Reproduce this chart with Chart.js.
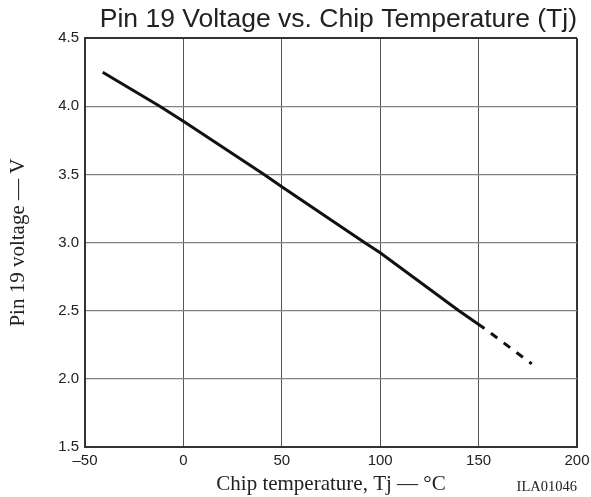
<!DOCTYPE html>
<html>
<head>
<meta charset="utf-8">
<script src="https://cdn.jsdelivr.net/npm/chart.js@4/dist/chart.umd.min.js"></script>
<style>
  html, body { margin: 0; padding: 0; background: #fff; }
  #grafico { display: block; }
</style>
</head>
<body>
<canvas id="grafico" width="591" height="497"></canvas>
<script>
// Tj (°C) e tensão no pino 19 (V) — troço medido (linha cheia)
const temperaturas = [-41, -12, 0, 41, 50, 92, 100, 140, 153];
const tensoes = [4.25, 4.0, 3.89, 3.5, 3.41, 3.0, 2.925, 2.5, 2.37];

// troço extrapolado (tracejado)
const temperaturasExtra = [153, 177];
const tensoesExtra = [2.37, 2.11];

const ticksX = [-50, 0, 50, 100, 150, 200];
const ticksY = [1.5, 2.0, 2.5, 3.0, 3.5, 4.0, 4.5];

const titulo = "Pin 19 Voltage vs. Chip Temperature (Tj)";
const tituloX = "Chip temperature, Tj \u2014 \u00B0C";
const tituloY = "Pin 19 voltage \u2014 V";
const referencia = "ILA01046";

const sans = "'Liberation Sans', Arial, Helvetica, sans-serif";
const serif = "'Liberation Serif', 'Times New Roman', serif";

const pontos = (xs, ys) => xs.map((x, i) => ({ x, y: ys[i] }));

// escreve o código da figura no canto inferior direito
const codigoFigura = {
  id: "codigoFigura",
  afterDraw(chart) {
    const { ctx, chartArea } = chart;
    ctx.save();
    ctx.font = `14.5px ${serif}`;
    ctx.fillStyle = "#222";
    ctx.textAlign = "right";
    ctx.textBaseline = "alphabetic";
    ctx.fillText(referencia, chartArea.right, 491);
    ctx.restore();
  }
};

const ctx = document.getElementById("grafico").getContext("2d");

new Chart(ctx, {
  type: "scatter",
  data: {
    datasets: [
      {
        data: pontos(temperaturas, tensoes),
        showLine: true,
        borderColor: "#111",
        borderWidth: 3,
        pointRadius: 0,
        tension: 0
      },
      {
        data: pontos(temperaturasExtra, tensoesExtra),
        showLine: true,
        borderColor: "#111",
        borderWidth: 3,
        borderDash: [8, 8],
        borderDashOffset: 8,
        pointRadius: 0,
        tension: 0
      }
    ]
  },
  options: {
    responsive: false,
    animation: false,
    layout: { padding: { left: 0, right: 14, top: 0, bottom: 0 } },
    plugins: {
      legend: { display: false },
      tooltip: { enabled: false },
      title: {
        display: true,
        text: titulo,
        align: "end",
        color: "#222",
        font: { family: sans, size: 26.5, weight: "normal" },
        padding: { top: 4.2, bottom: 2.2 }
      }
    },
    scales: {
      x: {
        type: "linear",
        min: -50,
        max: 200,
        afterBuildTicks: escala => {
          escala.ticks = ticksX.map(v => ({ value: v }));
        },
        afterFit: escala => {
          escala.height = 50;
          escala.paddingLeft = 0;
          escala.paddingRight = 0;
        },
        ticks: {
          color: "#222",
          padding: 5,
          font: { family: sans, size: 15 },
          callback: v => (v < 0 ? "\u2013" + Math.abs(v) : String(v))
        },
        grid: {
          drawTicks: false,
          color: ctx => (ctx.index === ticksX.length - 1 ? "#333" : "#555"),
          lineWidth: ctx => (ctx.index === ticksX.length - 1 ? 2 : 1)
        },
        border: { color: "#333", width: 2 },
        title: {
          display: true,
          text: tituloX,
          color: "#222",
          font: { family: serif, size: 21 },
          padding: { top: 0, bottom: 0 }
        }
      },
      y: {
        type: "linear",
        min: 1.5,
        max: 4.5,
        afterBuildTicks: escala => {
          escala.ticks = ticksY.map(v => ({ value: v }));
        },
        afterFit: escala => { escala.width = 85; },
        ticks: {
          color: "#222",
          padding: 6,
          font: { family: sans, size: 15 },
          callback: v => v.toFixed(1)
        },
        grid: {
          drawTicks: false,
          color: ctx => (ctx.index === ticksY.length - 1 ? "#333" : "#808080"),
          lineWidth: ctx => (ctx.index === ticksY.length - 1 ? 2 : 1.2)
        },
        border: { color: "#333", width: 2 },
        title: {
          display: true,
          text: tituloY,
          color: "#222",
          font: { family: serif, size: 21 },
          padding: { top: 6, bottom: 0 }
        }
      }
    }
  },
  plugins: [codigoFigura]
});
</script>
</body>
</html>
